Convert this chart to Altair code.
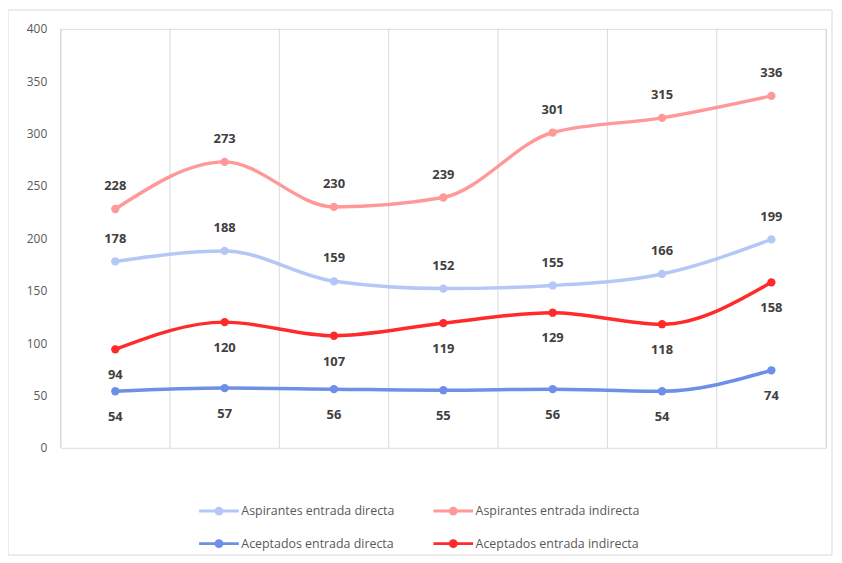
import altair as alt
import pandas as pd

years = [2014, 2015, 2016, 2017, 2018, 2019, 2020]
series_names = [
    "Aspirantes entrada directa",
    "Aspirantes entrada indirecta",
    "Aceptados entrada directa",
    "Aceptados entrada indirecta",
]
# legend order (Vega fills legend columns top-to-bottom)
legend_order = [
    "Aspirantes entrada directa",
    "Aceptados entrada directa",
    "Aspirantes entrada indirecta",
    "Aceptados entrada indirecta",
]
asp_dir = [178, 188, 159, 152, 155, 166, 199]
asp_ind = [228, 273, 230, 239, 301, 315, 336]
ace_dir = [54, 57, 56, 55, 56, 54, 74]
ace_ind = [94, 120, 107, 119, 129, 118, 158]
label_side = ["above", "above", "below", "below"]
colors = ["#b4c7f7", "#ff9999", "#6d8fe8", "#ff2a2a"]
color_map = dict(zip(series_names, colors))
boundaries = [2013.5, 2014.5, 2015.5, 2016.5, 2017.5, 2018.5, 2019.5, 2020.5]
y_ticks = [0, 50, 100, 150, 200, 250, 300, 350, 400]

rows = []
for name, vals, side in zip(series_names, [asp_dir, asp_ind, ace_dir, ace_ind], label_side):
    for yr, v in zip(years, vals):
        rows.append({"serie": name, "year": yr, "value": v, "side": side})
df = pd.DataFrame(rows)
bdf = pd.DataFrame({"b": boundaries})

W, H = 771, 422
FONT = "Open Sans"

xscale = alt.Scale(domain=[2013.5, 2020.5], nice=False, zero=False)
yscale = alt.Scale(domain=[0, 400], nice=False)
cscale = alt.Scale(domain=legend_order, range=[color_map[n] for n in legend_order])

grid = alt.Chart(bdf).mark_rule(color="#d9d9d9", strokeWidth=1).encode(
    x=alt.X("b:Q", scale=xscale, axis=None),
    y=alt.value(0),
    y2=alt.value(H),
)

lines = alt.Chart(df).mark_line(
    interpolate="monotone", strokeWidth=3.5,
    point=alt.OverlayMarkDef(size=70, filled=True, opacity=1),
).encode(
    x=alt.X("year:Q", scale=xscale,
            axis=alt.Axis(values=years, format="d", grid=False, ticks=False,
                          domain=True, domainColor="#d9d9d9", labelPadding=14,
                          labelColor="#595959", labelFontSize=12, labelFont=FONT,
                          title=None)),
    y=alt.Y("value:Q", scale=yscale,
            axis=alt.Axis(values=y_ticks, grid=False, ticks=False, domain=False,
                          labelPadding=14, labelColor="#595959", labelFontSize=12,
                          labelFont=FONT, title=None)),
    color=alt.Color("serie:N", scale=cscale, sort=legend_order,
                    legend=alt.Legend(
                        title=None, orient="none", legendX=138, legendY=464,
                        columns=2, columnPadding=32, rowPadding=2,
                        symbolType="M-1,0H1M-0.15,0a0.15,0.15 0 1,0 0.3,0a0.15,0.15 0 1,0 -0.3,0",
                        symbolSize=1600, symbolStrokeWidth=3,
                        labelFont=FONT, labelFontSize=12.5, labelColor="#595959",
                        labelOffset=1, labelLimit=300)),
    order="year:Q",
)

text_above = alt.Chart(df).transform_filter(alt.datum.side == "above").mark_text(
    dy=-23, fontWeight="bold", fontSize=13, font=FONT, color="#404040"
).encode(
    x=alt.X("year:Q", scale=xscale),
    y=alt.Y("value:Q", scale=yscale),
    text=alt.Text("value:Q"),
)
text_below = alt.Chart(df).transform_filter(alt.datum.side == "below").mark_text(
    dy=26, fontWeight="bold", fontSize=13, font=FONT, color="#404040"
).encode(
    x=alt.X("year:Q", scale=xscale),
    y=alt.Y("value:Q", scale=yscale),
    text=alt.Text("value:Q"),
)

frame = alt.Chart(bdf.head(1)).mark_rect(
    fill="transparent", stroke="#d9d9d9", strokeWidth=1, clip=False
).encode(
    x=alt.value(-53), x2=alt.value(W + 6),
    y=alt.value(-19), y2=alt.value(H + 108),
)

chart = alt.layer(frame, grid, lines, text_above, text_below).properties(
    width=W, height=H,
    autosize=alt.AutoSizeParams(type="none"),
    padding={"left": 53, "top": 19, "right": 8, "bottom": 112},
).configure_view(stroke=None).configure(background="white")

chart.save("out.html", embed_options={"renderer": "svg", "actions": False})
